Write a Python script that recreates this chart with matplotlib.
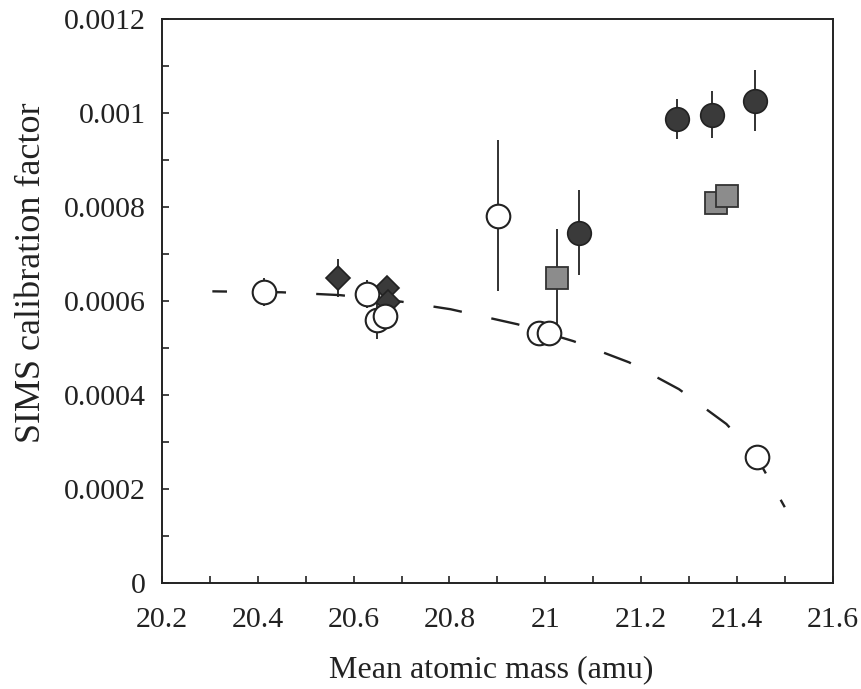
import matplotlib.pyplot as plt
from matplotlib.ticker import MultipleLocator

plt.rcParams['font.family'] = ['Liberation Serif', 'DejaVu Serif']

# open circles
open_x = [20.412, 20.628, 20.649, 20.665, 20.902, 20.986, 21.007, 21.441]
open_y = [0.000618, 0.000614, 0.000558, 0.000568, 0.000781, 0.000531, 0.000531, 0.000268]
open_yerr = [0.00003, 0.00003, 0.00004, 0.00002, 0.00016, 0.0, 0.0, 0.0]

# dark diamonds
dia_x = [20.567, 20.669, 20.671]
dia_y = [0.000648, 0.000628, 0.000598]
dia_yerr = [0.00004, 0.00002, 0.00002]

# dark circles
dark_x = [21.07, 21.275, 21.349, 21.437]
dark_y = [0.000745, 0.000987, 0.000996, 0.001025]
dark_yerr = [0.00009, 0.000043, 0.00005, 0.000065]

# grey squares
sq_x = [21.024, 21.357, 21.380]
sq_y = [0.000648, 0.000807, 0.000822]
sq_yerr = [0.000105, 0.00002, 0.0]

# dashed model curve
curve_x = [20.305, 20.45, 20.571, 20.70, 20.802, 20.942, 21.059, 21.175, 21.279, 21.378, 21.44, 21.50]
curve_y = [0.000620, 0.000618, 0.000612, 0.000598, 0.000582, 0.000550, 0.000514, 0.000469, 0.000412, 0.000338, 0.000270, 0.000161]

x_ticks = [20.2, 20.4, 20.6, 20.8, 21.0, 21.2, 21.4, 21.6]
x_labels = ['20.2', '20.4', '20.6', '20.8', '21', '21.2', '21.4', '21.6']
y_ticks = [0, 0.0002, 0.0004, 0.0006, 0.0008, 0.001, 0.0012]
y_labels = ['0', '0.0002', '0.0004', '0.0006', '0.0008', '0.001', '0.0012']

INK = '#222222'

fig = plt.figure(figsize=(8.62, 6.89), dpi=100)
ax = fig.add_axes([0.188, 0.154, 0.778, 0.819])

ax.plot(curve_x, curve_y, color=INK, lw=1.7, ls=(6.0, (12.2, 12.8)), zorder=1)

ekw = dict(fmt='none', ecolor=INK, elinewidth=1.3, capsize=0, zorder=2)
ax.errorbar(open_x, open_y, yerr=open_yerr, **ekw)
ax.errorbar(dia_x, dia_y, yerr=dia_yerr, **ekw)
ax.errorbar(dark_x, dark_y, yerr=dark_yerr, **ekw)
ax.errorbar(sq_x, sq_y, yerr=sq_yerr, **ekw)

ax.plot(dia_x, dia_y, 'D', ms=12, mfc='#3a3a3a', mec=INK, mew=1.2, ls='none', zorder=3)
ax.plot(open_x, open_y, 'o', ms=17, mfc='white', mec=INK, mew=1.5, ls='none', zorder=3)
ax.plot(sq_x, sq_y, 's', ms=16.5, mfc='#8c8c8c', mec='#333333', mew=1.3, ls='none', zorder=3)
ax.plot(dark_x, dark_y, 'o', ms=17, mfc='#3a3a3a', mec=INK, mew=1.2, ls='none', zorder=3)

ax.set_xlim(20.2, 21.6)
ax.set_ylim(0, 0.0012)
ax.set_xticks(x_ticks)
ax.set_xticklabels(x_labels)
ax.set_yticks(y_ticks)
ax.set_yticklabels(y_labels)
ax.xaxis.set_minor_locator(MultipleLocator(0.1))
ax.yaxis.set_minor_locator(MultipleLocator(0.0001))

ax.tick_params(which='both', direction='in', length=5, width=1.2, top=False, right=False,
               colors=INK)
ax.tick_params(axis='x', labelsize=21.5, pad=17)
ax.tick_params(axis='y', labelsize=21.5, pad=12)
for s in ax.spines.values():
    s.set_linewidth(1.4)
    s.set_color(INK)

ax.set_xlabel('Mean atomic mass (amu)', fontsize=23, color=INK, va='top')
ax.xaxis.set_label_coords(0.491, -0.128)
ax.set_ylabel('SIMS calibration factor', fontsize=26, color=INK)
ax.yaxis.set_label_coords(-0.17, 0.55)

fig.savefig('out.png', dpi=100)
